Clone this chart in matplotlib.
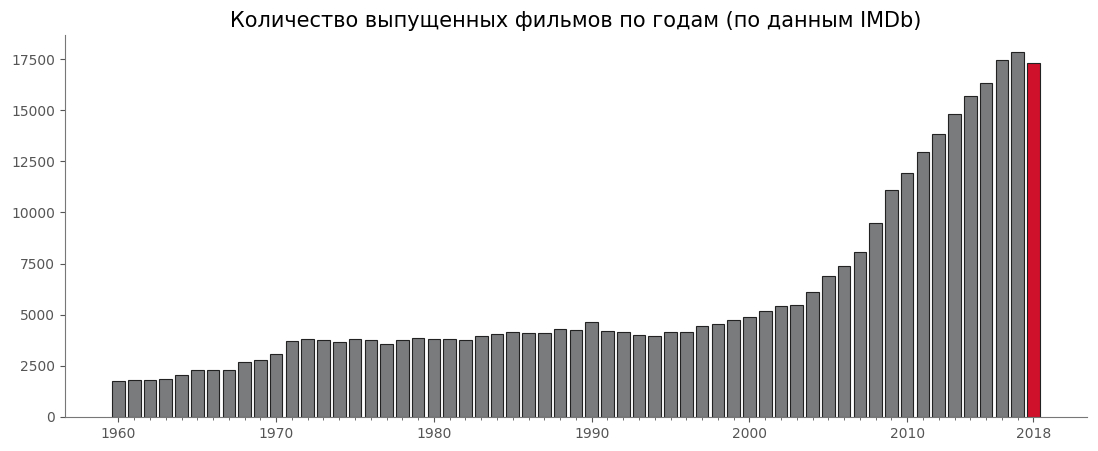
import matplotlib
matplotlib.use("Agg")
import matplotlib.pyplot as plt
import numpy as np

years = list(range(1960, 2019))
counts = [1760, 1810, 1810, 1860, 2050, 2300, 2300, 2300, 2690, 2790,
          3080, 3720, 3810, 3770, 3670, 3810, 3770, 3570, 3770, 3860,
          3810, 3810, 3770, 3960, 4060, 4160, 4110, 4110, 4300, 4250,
          4640, 4200, 4160, 4010, 3960, 4160, 4160, 4450, 4550, 4740,
          4890, 5180, 5430, 5480, 6110, 6890, 7380, 8070, 9490, 11100,
          11930, 12960, 13840, 14820, 15700, 16340, 17460, 17850, 17310]
xticks = [1960, 1970, 1980, 1990, 2000, 2010, 2018]
title = "Количество выпущенных фильмов по годам (по данным IMDb)"

fig = plt.figure(figsize=(10.98, 4.51), dpi=100)
ax = fig.add_axes([0.059, 0.0754, 0.931, 0.8466])
colors = ["#7a7b7d"] * (len(years) - 1) + ["#d0112b"]
ax.bar(years, counts, width=0.8, color=colors, edgecolor="#222222", linewidth=0.8)
ax.set_xlim(1956.6, 2021.4)
ax.set_ylim(0, 18670)
ax.set_xticks(xticks)
ax.set_xticks(years, minor=True)
ax.set_yticks(np.arange(0, 17501, 2500))
ax.tick_params(colors="#555555", labelsize=10)
ax.tick_params(which="minor", length=2, color="#555555")
for s in ["top", "right"]:
    ax.spines[s].set_visible(False)
for s in ["left", "bottom"]:
    ax.spines[s].set_color("#777777")
ax.set_title(title, fontsize=15, pad=6)
fig.savefig("out.png", dpi=100)
